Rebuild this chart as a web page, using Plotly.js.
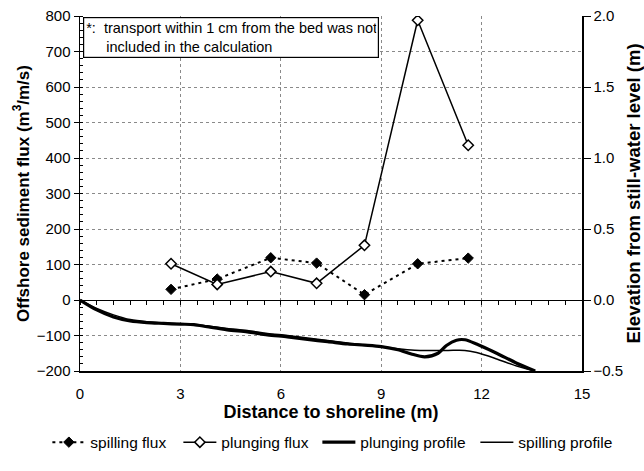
<!DOCTYPE html>
<html>
<head>
<meta charset="utf-8">
<script src="https://cdn.plot.ly/plotly-3.0.1.min.js"></script>
<style>html,body{margin:0;padding:0;background:#fff;}#chart{width:644px;height:471px;}</style>
</head>
<body>
<div id="chart"></div>
<script>
// Flux data (offshore sediment flux, m3/m/s)
const fluxX = [2.72, 4.1, 5.7, 7.07, 8.5, 10.09, 11.6];
const spillingFlux = [30, 59, 119, 104, 15, 102, 118];
const plungingFlux = [102, 44, 80, 47, 154, 788, 436];

// Bed profiles (elevation from still-water level, m)
const plungingProfX = [0, 0.5, 1, 1.5, 2, 2.5, 3, 3.4, 3.8, 4.4, 5, 5.6, 6.2, 6.8, 7.4, 8.0, 8.5, 9.0, 9.5, 9.9, 10.3, 10.7, 10.95, 11.25, 11.5, 11.85, 12.45, 13.05, 13.6];
const plungingProfY = [0, -0.07, -0.12, -0.148, -0.16, -0.165, -0.17, -0.173, -0.188, -0.21, -0.225, -0.245, -0.26, -0.278, -0.293, -0.31, -0.318, -0.328, -0.35, -0.38, -0.40, -0.375, -0.32, -0.283, -0.28, -0.31, -0.375, -0.445, -0.5];
const spillingProfX = [0, 0.5, 1, 1.5, 2, 2.5, 3, 3.4, 3.8, 4.4, 5, 5.6, 6.2, 6.8, 7.4, 8.0, 8.5, 9.0, 9.5, 10, 10.5, 11, 11.5, 11.85, 12.45, 13.05, 13.6];
const spillingProfY = [0, -0.06, -0.105, -0.138, -0.153, -0.16, -0.168, -0.17, -0.183, -0.2, -0.215, -0.235, -0.25, -0.268, -0.285, -0.303, -0.315, -0.328, -0.343, -0.353, -0.355, -0.355, -0.355, -0.37, -0.415, -0.465, -0.5];

const xTicks = [0, 3, 6, 9, 12, 15];
const seriesNames = ['spilling flux', 'plunging flux', 'plunging profile', 'spilling profile'];
const noteText = '*:&nbsp;&nbsp;transport within 1 cm from the bed was not<br>&nbsp;&nbsp;&nbsp;&nbsp;&nbsp;included in the calculation';

const FONT = '"Liberation Sans", Arial, sans-serif';

const traces = [
  {
    x: fluxX, y: spillingFlux, name: seriesNames[0], type: 'scatter', mode: 'lines+markers',
    line: {color: '#000', width: 2, dash: '3px,4px'},
    marker: {symbol: 'diamond', size: 8, color: '#000', line: {color: '#000', width: 1}},
    legendwidth: 83,
    xaxis: 'x', yaxis: 'y'
  },
  {
    x: fluxX, y: plungingFlux, name: seriesNames[1], type: 'scatter', mode: 'lines+markers',
    line: {color: '#000', width: 1.5},
    marker: {symbol: 'diamond', size: 8, color: '#fff', line: {color: '#000', width: 1.5}},
    legendwidth: 91,
    xaxis: 'x', yaxis: 'y'
  },
  {
    x: plungingProfX, y: plungingProfY, name: seriesNames[2], type: 'scatter', mode: 'lines',
    line: {color: '#000', width: 3.2, shape: 'spline', smoothing: 0.8},
    legendwidth: 110,
    xaxis: 'x2', yaxis: 'y2'
  },
  {
    x: spillingProfX, y: spillingProfY, name: seriesNames[3], type: 'scatter', mode: 'lines',
    line: {color: '#000', width: 1.5, shape: 'spline', smoothing: 0.8},
    legendwidth: 96,
    xaxis: 'x2', yaxis: 'y2'
  }
];

const layout = {
  width: 644, height: 471,
  margin: {l: 80, r: 62, t: 16, b: 83},
  paper_bgcolor: '#fff', plot_bgcolor: '#fff',
  font: {family: FONT, color: '#000', size: 15},
  showlegend: true,
  legend: {
    orientation: 'h', x: -0.065, xanchor: 'left', y: -0.2016, yanchor: 'middle',
    itemwidth: 33,
    font: {family: FONT, size: 15.5, color: '#000'}, bgcolor: 'rgba(0,0,0,0)'
  },
  xaxis: {
    range: [0, 15], tickvals: xTicks, ticks: 'outside', ticklen: 8, tickcolor: 'rgba(0,0,0,0)',
    showline: true, linecolor: '#000', linewidth: 1.5,
    showgrid: true, gridcolor: '#8a8a8a', griddash: 'dot', gridwidth: 1, zeroline: false,
    tickfont: {size: 15},
    title: {text: 'Distance to shoreline (m)', font: {size: 18, family: FONT, weight: 'bold'}, standoff: 5},
    automargin: false
  },
  xaxis2: {
    range: [0, 15], overlaying: 'x', anchor: 'free', position: 0.2, side: 'bottom',
    dtick: 0.5, tick0: 0, ticks: 'outside', ticklen: 4, tickcolor: '#000', showticklabels: false,
    showline: true, linecolor: '#000', linewidth: 1.2, showgrid: false, zeroline: false
  },
  yaxis: {
    range: [-200, 800], dtick: 100, ticks: 'outside', ticklen: 5, tickcolor: '#000',
    minor: {dtick: 20, ticks: 'inside', ticklen: 3, tickcolor: '#000', showgrid: false},
    showline: true, linecolor: '#000', linewidth: 1.5,
    showgrid: true, gridcolor: '#8a8a8a', griddash: 'dot', gridwidth: 1, zeroline: false,
    tickfont: {size: 15},
    title: {text: 'Offshore sediment flux (m<sup>3</sup>/m/s)', font: {size: 17, family: FONT, weight: 'bold'}, standoff: 3},
    automargin: false
  },
  yaxis2: {
    range: [-0.5, 2.0], dtick: 0.5, tickformat: '.1f', overlaying: 'y', side: 'right', anchor: 'x',
    ticks: 'outside', ticklen: 7, tickcolor: '#000', showline: true, linecolor: '#000', linewidth: 1.5,
    showgrid: false, zeroline: false, tickfont: {size: 15},
    title: {text: 'Elevation from still-water level (m)', font: {size: 18.5, family: FONT, weight: 'bold'}, standoff: 11},
    automargin: false
  },
  annotations: [{
    xref: 'paper', yref: 'paper', x: 0.006, y: 0.997, xanchor: 'left', yanchor: 'top',
    text: noteText, showarrow: false, align: 'left', width: 290,
    font: {family: FONT, size: 14.5, color: '#000'},
    bordercolor: '#000', borderwidth: 1.2, borderpad: 2, bgcolor: '#fff'
  }]
};

Plotly.newPlot('chart', traces, layout, {displayModeBar: false, staticPlot: true});
</script>
</body>
</html>
